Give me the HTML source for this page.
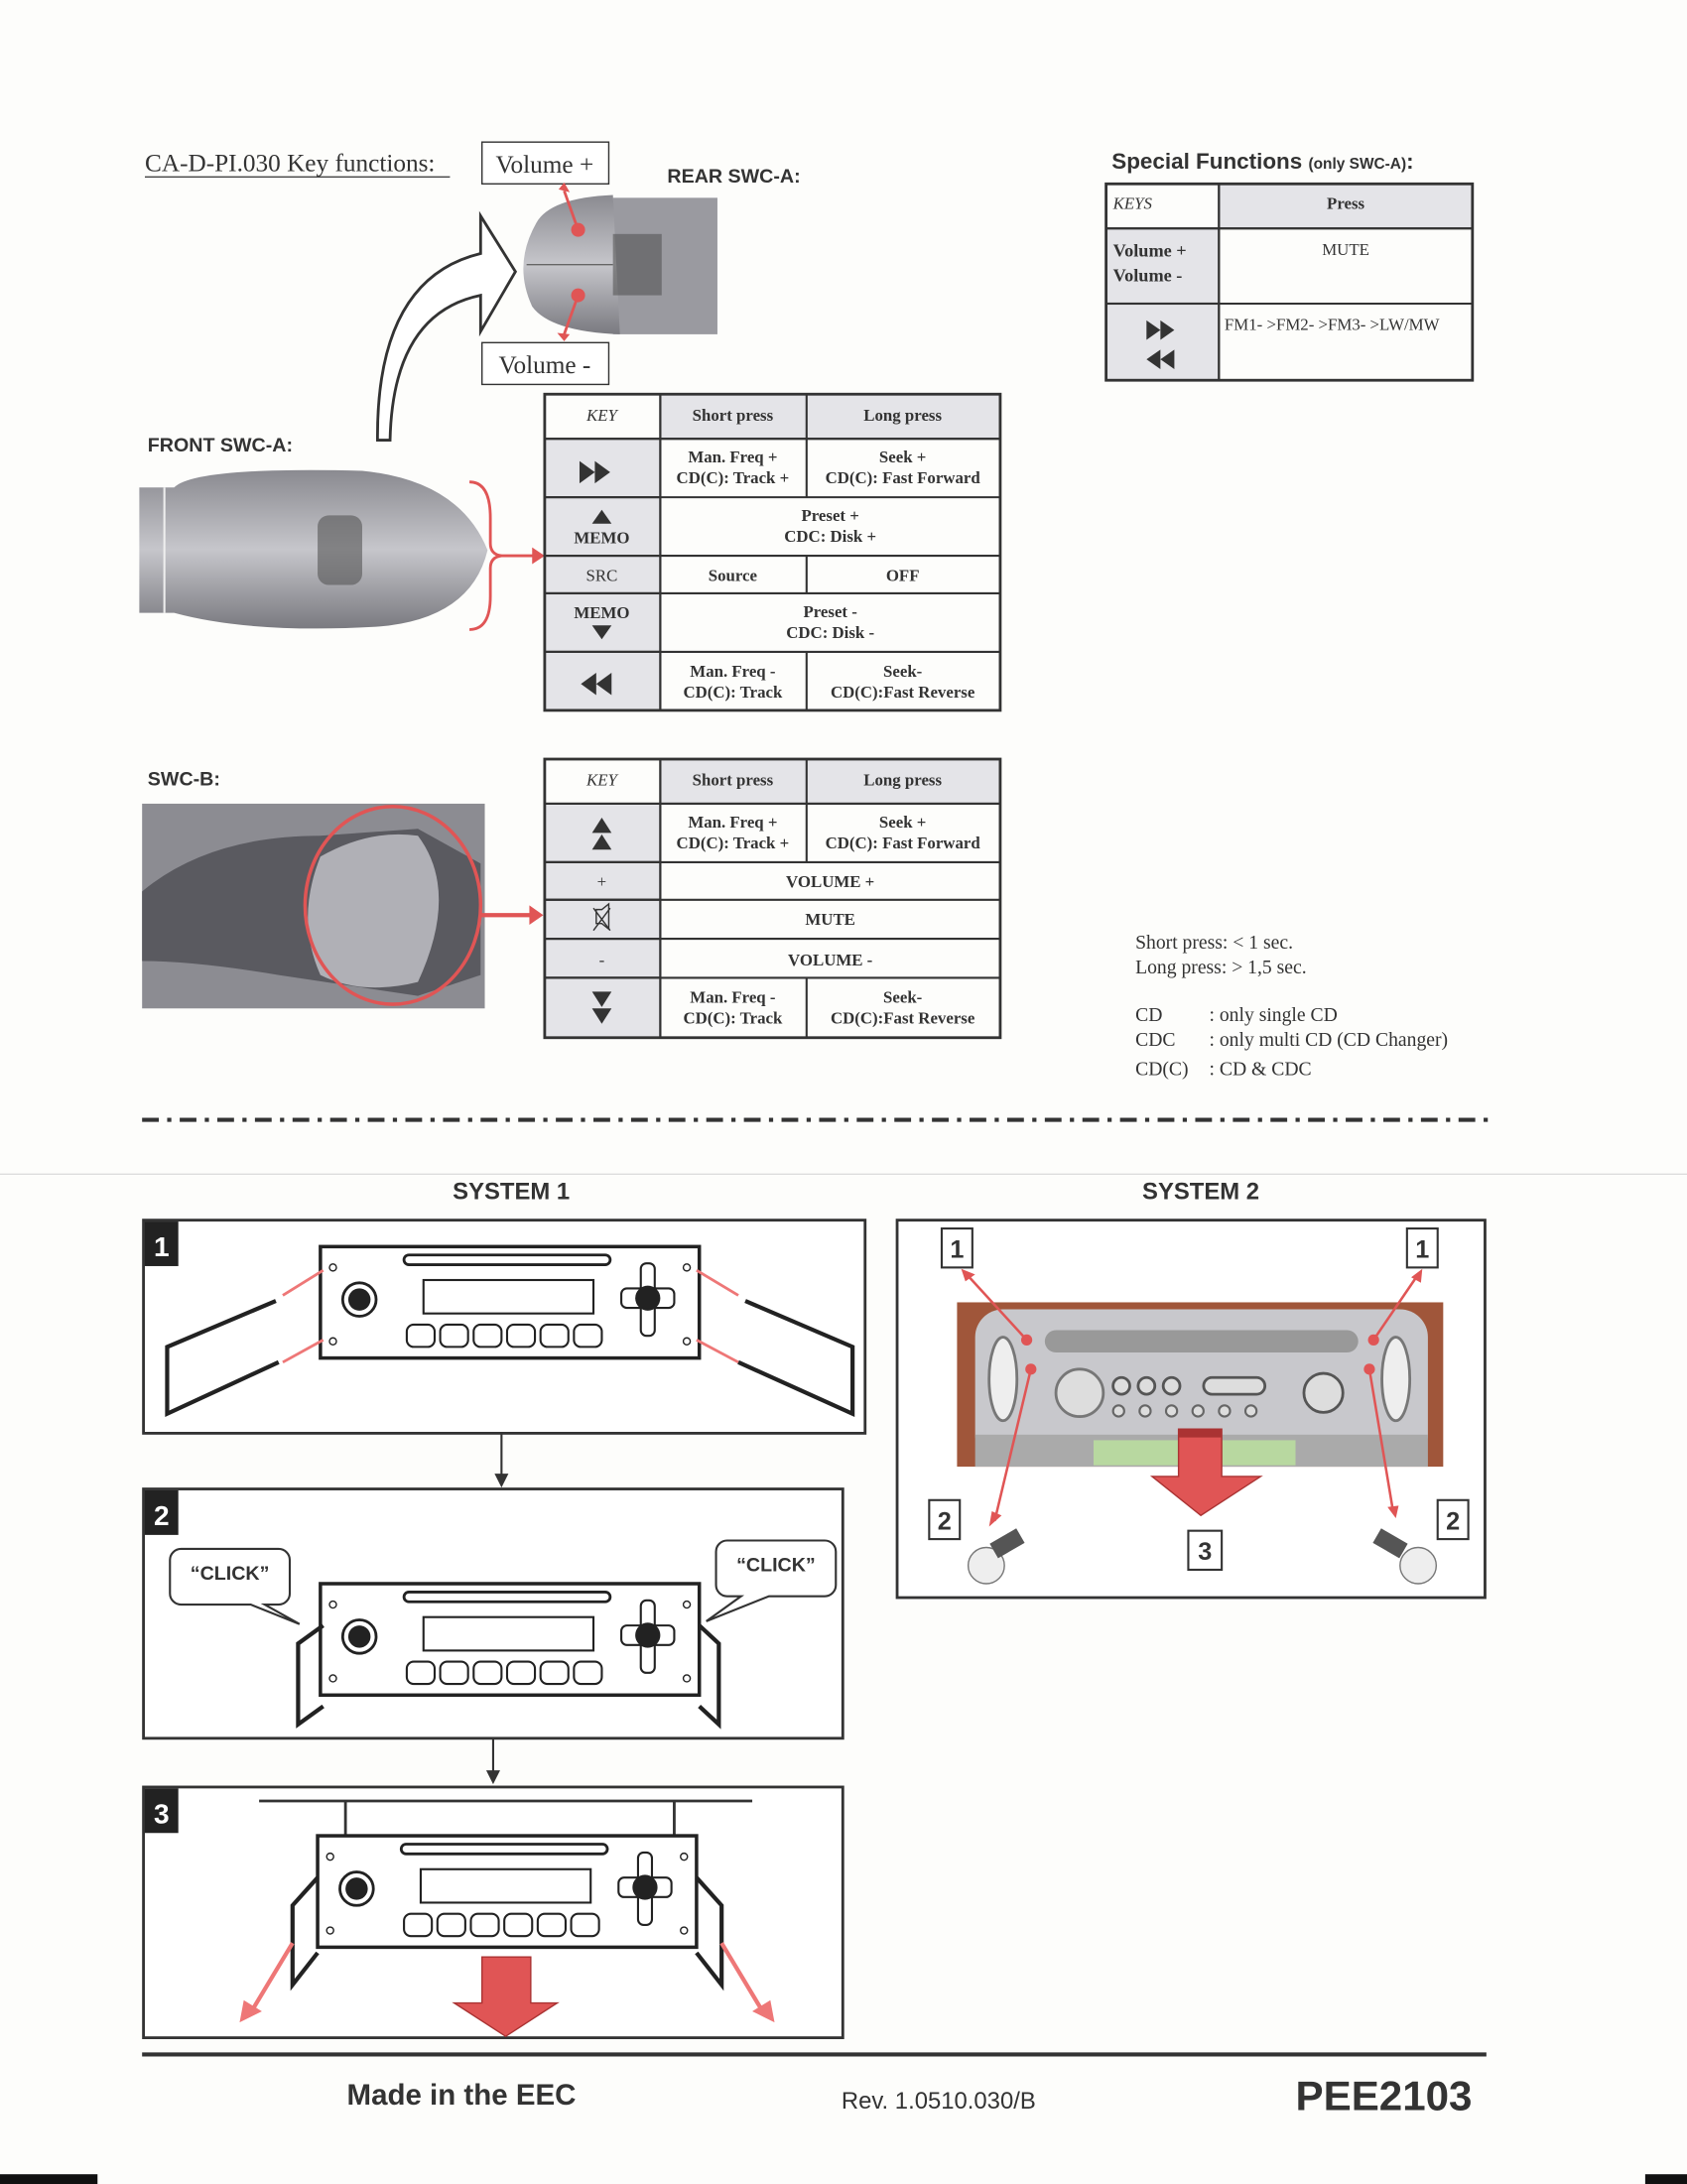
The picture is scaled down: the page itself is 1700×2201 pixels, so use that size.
<!DOCTYPE html>
<html><head><meta charset="utf-8"><style>
html,body{margin:0;padding:0;background:#fdfdfb}
svg{display:block}
.s{font-family:"Liberation Serif",serif;fill:#333}
.a{font-family:"Liberation Sans",sans-serif;fill:#333}
.w{fill:#fff}
</style></head><body>
<svg width="1700" height="2201" viewBox="0 0 1211 1568" preserveAspectRatio="none" xmlns="http://www.w3.org/2000/svg">
<defs>
<g id="radio">
 <rect x="0" y="0" width="272" height="80" fill="#fff" stroke="#222" stroke-width="2.5"/>
 <rect x="60" y="6" width="148" height="7" rx="3.5" fill="#fff" stroke="#222" stroke-width="2"/>
 <circle cx="28" cy="38" r="12" fill="#fff" stroke="#222" stroke-width="2"/>
 <circle cx="28" cy="38" r="8" fill="#222"/>
 <rect x="74" y="24" width="122" height="24" fill="#fff" stroke="#222" stroke-width="1.5"/>
 <g fill="#fff" stroke="#222" stroke-width="1.5">
 <rect x="62" y="56" width="20" height="16" rx="5"/><rect x="86" y="56" width="20" height="16" rx="5"/><rect x="110" y="56" width="20" height="16" rx="5"/><rect x="134" y="56" width="20" height="16" rx="5"/><rect x="158" y="56" width="20" height="16" rx="5"/><rect x="182" y="56" width="20" height="16" rx="5"/>
 <rect x="230" y="12" width="10" height="52" rx="4"/><rect x="216" y="30" width="38" height="14" rx="4"/></g>
 <circle cx="235" cy="37" r="9" fill="#222"/>
 <circle cx="9" cy="15" r="2.5" fill="none" stroke="#222"/><circle cx="9" cy="68" r="2.5" fill="none" stroke="#222"/>
 <circle cx="263" cy="15" r="2.5" fill="none" stroke="#222"/><circle cx="263" cy="68" r="2.5" fill="none" stroke="#222"/>
</g>
<linearGradient id="gr" x1="0" y1="0" x2="0" y2="1"><stop offset="0" stop-color="#8a8a90"/><stop offset=".5" stop-color="#c6c6cb"/><stop offset="1" stop-color="#7a7a80"/></linearGradient>
</defs>

<text x="104" y="123" class="s" font-size="18" fill="#444">CA-D-PI.030 Key functions:</text>
<line x1="104" y1="127" x2="323" y2="127" stroke="#444" stroke-width="1"/>
<rect x="346" y="102" width="91" height="30" fill="#fff" stroke="#333"/>
<text x="391" y="124" class="s" font-size="18" text-anchor="middle">Volume +</text>
<rect x="346" y="246" width="91" height="30" fill="#fff" stroke="#333"/>
<text x="391" y="268" class="s" font-size="18" text-anchor="middle">Volume -</text>
<text x="479" y="131" class="a" font-size="14" font-weight="bold">REAR SWC-A:</text>
<text x="106" y="324" class="a" font-size="14" font-weight="bold">FRONT SWC-A:</text>
<text x="106" y="564" class="a" font-size="14" font-weight="bold">SWC-B:</text>

<rect x="440" y="142" width="75" height="98" fill="#9a9aa0"/>
<path d="M385 160 Q395 142 440 140 L445 240 Q395 238 382 220 Q368 190 385 160Z" fill="url(#gr)"/>
<rect x="440" y="168" width="35" height="44" fill="#555" opacity=".6"/>
<line x1="378" y1="190" x2="440" y2="190" stroke="#666"/>
<circle cx="415" cy="165" r="5" fill="#e05555"/><circle cx="415" cy="212" r="5" fill="#e05555"/>
<line x1="415" y1="165" x2="405" y2="137" stroke="#e05555" stroke-width="2"/><path d="M401 136 L405 131 L409 138Z" fill="#e05555"/>
<line x1="415" y1="212" x2="405" y2="240" stroke="#e05555" stroke-width="2"/><path d="M400 239 L405 245 L409 240Z" fill="#e05555"/>

<path d="M271 316 Q270 200 345 182 L345 155 L370 195 L345 238 L345 212 Q282 225 280 316Z" fill="#fff" stroke="#333" stroke-width="2"/>

<path d="M100 350 L125 350 Q140 335 260 338 Q330 345 350 395 Q338 445 270 450 Q180 455 125 440 L100 440Z" fill="url(#gr)"/>
<rect x="228" y="370" width="32" height="50" rx="8" fill="#555" opacity=".6"/>
<line x1="118" y1="350" x2="118" y2="440" stroke="#eee" stroke-width="1.5"/>
<path d="M337 346 Q352 346 352 372 L352 390 Q352 398 360 399 Q352 400 352 408 L352 428 Q352 452 337 452" fill="none" stroke="#e05555" stroke-width="2"/>
<line x1="360" y1="399" x2="384" y2="399" stroke="#e05555" stroke-width="2"/><path d="M382 393 L391 399 L382 405Z" fill="#e05555"/>

<g stroke="#333" stroke-width="1.5">
<rect x="474" y="283" width="244" height="32" fill="#e4e4e8"/>
<rect x="391" y="315" width="83" height="42" fill="#e4e4e8"/>
<rect x="391" y="357" width="83" height="42" fill="#e4e4e8"/>
<rect x="391" y="399" width="83" height="27" fill="#e4e4e8"/>
<rect x="391" y="426" width="83" height="42" fill="#e4e4e8"/>
<rect x="391" y="468" width="83" height="42" fill="#e4e4e8"/>
<rect x="391" y="283" width="327" height="227" fill="none" stroke-width="2"/>
<line x1="474" y1="283" x2="474" y2="510"/>
<line x1="579" y1="283" x2="579" y2="357"/><line x1="579" y1="399" x2="579" y2="426"/><line x1="579" y1="468" x2="579" y2="510"/>
<line x1="391" y1="315" x2="718" y2="315"/><line x1="391" y1="357" x2="718" y2="357"/><line x1="391" y1="399" x2="718" y2="399"/><line x1="391" y1="426" x2="718" y2="426"/><line x1="391" y1="468" x2="718" y2="468"/>
</g>
<g class="s" font-size="12" text-anchor="middle" font-weight="bold">
<text x="432" y="302" font-style="italic" font-weight="normal">KEY</text>
<text x="526" y="302">Short press</text><text x="648" y="302">Long press</text>
<text x="526" y="332">Man. Freq +</text><text x="526" y="347">CD(C): Track +</text>
<text x="648" y="332">Seek +</text><text x="648" y="347">CD(C): Fast Forward</text>
<text x="432" y="390">MEMO</text>
<text x="596" y="374">Preset +</text><text x="596" y="389">CDC: Disk +</text>
<text x="432" y="417" font-weight="normal">SRC</text>
<text x="526" y="417">Source</text><text x="648" y="417">OFF</text>
<text x="432" y="444">MEMO</text>
<text x="596" y="443">Preset -</text><text x="596" y="458">CDC: Disk -</text>
<text x="526" y="486">Man. Freq -</text><text x="526" y="501">CD(C): Track</text>
<text x="648" y="486">Seek-</text><text x="648" y="501">CD(C):Fast Reverse</text>
</g>
<g fill="#333">
<path d="M416 331 L427 339 L416 347Z M427 331 L438 339 L427 347Z"/>
<path d="M425 376 L432 366 L439 376Z"/>
<path d="M425 449 L432 459 L439 449Z"/>
<path d="M428 483 L417 491 L428 499Z M439 483 L428 491 L439 499Z"/>
</g>

<text x="798" y="121" class="a" font-size="16" font-weight="bold">Special Functions <tspan font-size="11">(only SWC-A)</tspan>:</text>
<g stroke="#333" stroke-width="1.5">
<rect x="875" y="132" width="182" height="32" fill="#e4e4e8"/>
<rect x="794" y="164" width="81" height="54" fill="#e4e4e8"/>
<rect x="794" y="218" width="81" height="55" fill="#e4e4e8"/>
<rect x="794" y="132" width="263" height="141" fill="none" stroke-width="2"/>
<line x1="875" y1="132" x2="875" y2="273"/><line x1="794" y1="164" x2="1057" y2="164"/><line x1="794" y1="218" x2="1057" y2="218"/>
</g>
<g class="s" font-size="12">
<text x="799" y="150" font-style="italic">KEYS</text>
<text x="966" y="150" text-anchor="middle" font-weight="bold">Press</text>
<text x="799" y="184" font-weight="bold" font-size="13">Volume +</text><text x="799" y="202" font-weight="bold" font-size="13">Volume -</text>
<text x="966" y="183" text-anchor="middle">MUTE</text>
<text x="879" y="237">FM1- &gt;FM2- &gt;FM3- &gt;LW/MW</text>
</g>
<g fill="#333"><path d="M823 230 L833 237 L823 244Z M833 230 L843 237 L833 244Z"/><path d="M833 251 L823 258 L833 265Z M843 251 L833 258 L843 265Z"/></g>

<rect x="102" y="577" width="246" height="147" fill="#8c8c92"/>
<path d="M102 640 Q150 600 230 600 L300 595 L345 620 L345 700 L300 715 L200 700 Q140 690 102 690Z" fill="#5a5a60"/>
<path d="M230 615 Q265 595 300 600 Q330 640 300 705 Q260 715 230 700 Q212 660 230 615Z" fill="#b0b0b6"/>
<ellipse cx="282" cy="650" rx="63" ry="71" fill="none" stroke="#e05555" stroke-width="2.5"/>
<line x1="345" y1="657" x2="382" y2="657" stroke="#e05555" stroke-width="3"/><path d="M380 650 L390 657 L380 664Z" fill="#e05555"/>

<g stroke="#333" stroke-width="1.5">
<rect x="474" y="545" width="244" height="32" fill="#e4e4e8"/>
<rect x="391" y="577" width="83" height="42" fill="#e4e4e8"/>
<rect x="391" y="619" width="83" height="27" fill="#e4e4e8"/>
<rect x="391" y="646" width="83" height="28" fill="#e4e4e8"/>
<rect x="391" y="674" width="83" height="28" fill="#e4e4e8"/>
<rect x="391" y="702" width="83" height="43" fill="#e4e4e8"/>
<rect x="391" y="545" width="327" height="200" fill="none" stroke-width="2"/>
<line x1="474" y1="545" x2="474" y2="745"/>
<line x1="579" y1="545" x2="579" y2="619"/><line x1="579" y1="702" x2="579" y2="745"/>
<line x1="391" y1="577" x2="718" y2="577"/><line x1="391" y1="619" x2="718" y2="619"/><line x1="391" y1="646" x2="718" y2="646"/><line x1="391" y1="674" x2="718" y2="674"/><line x1="391" y1="702" x2="718" y2="702"/>
</g>
<g class="s" font-size="12" text-anchor="middle" font-weight="bold">
<text x="432" y="564" font-style="italic" font-weight="normal">KEY</text>
<text x="526" y="564">Short press</text><text x="648" y="564">Long press</text>
<text x="526" y="594">Man. Freq +</text><text x="526" y="609">CD(C): Track +</text>
<text x="648" y="594">Seek +</text><text x="648" y="609">CD(C): Fast Forward</text>
<text x="432" y="637" font-weight="normal">+</text><text x="596" y="637">VOLUME +</text>
<text x="596" y="664">MUTE</text>
<text x="432" y="693" font-weight="normal">-</text><text x="596" y="693">VOLUME -</text>
<text x="526" y="720">Man. Freq -</text><text x="526" y="735">CD(C): Track</text>
<text x="648" y="720">Seek-</text><text x="648" y="735">CD(C):Fast Reverse</text>
</g>
<g fill="#333">
<path d="M425 598 L432 587 L439 598Z M425 610 L432 599 L439 610Z"/>
<path d="M425 712 L432 723 L439 712Z M425 724 L432 735 L439 724Z"/>
<path d="M428 653 h4 l5 -4 v18 l-5 -4 h-4Z" fill="none" stroke="#333"/><path d="M426 652 L438 668 M438 652 L426 668" stroke="#333"/>
</g>

<g class="s" font-size="14">
<text x="815" y="681">Short press: &lt; 1 sec.</text>
<text x="815" y="699">Long press: &gt; 1,5 sec.</text>
<text x="815" y="733">CD</text><text x="868" y="733">: only single CD</text>
<text x="815" y="751">CDC</text><text x="868" y="751">: only multi CD (CD Changer)</text>
<text x="815" y="772">CD(C)</text><text x="868" y="772">: CD &amp; CDC</text>
</g>

<line x1="102" y1="804" x2="1068" y2="804" stroke="#333" stroke-width="3" stroke-dasharray="12 6 3 6"/>
<line x1="0" y1="843" x2="1211" y2="843" stroke="#ddd" stroke-width="1"/>

<text x="367" y="861" class="a" font-size="17" font-weight="bold" text-anchor="middle">SYSTEM 1</text>
<text x="862" y="861" class="a" font-size="17" font-weight="bold" text-anchor="middle">SYSTEM 2</text>

<rect x="103" y="876" width="518" height="153" fill="#fff" stroke="#333" stroke-width="2"/>
<rect x="104" y="877" width="24" height="32" fill="#222"/><text x="116" y="902" class="a w" font-size="20" font-weight="bold" text-anchor="middle">1</text>
<use href="#radio" x="230" y="895"/>
<g fill="none" stroke="#222" stroke-width="3">
<path d="M198 934 L120 967 L120 1015 L200 978"/>
<path d="M535 934 L612 967 L612 1015 L530 978"/>
</g>
<g stroke="#e77" stroke-width="2"><line x1="203" y1="930" x2="232" y2="912"/><line x1="203" y1="978" x2="232" y2="962"/><line x1="530" y1="930" x2="500" y2="912"/><line x1="530" y1="978" x2="500" y2="962"/></g>
<line x1="360" y1="1029" x2="360" y2="1062" stroke="#333" stroke-width="1.5"/><path d="M355 1058 L360 1068 L365 1058Z" fill="#333"/>

<rect x="103" y="1069" width="502" height="179" fill="#fff" stroke="#333" stroke-width="2"/>
<rect x="104" y="1070" width="24" height="32" fill="#222"/><text x="116" y="1095" class="a w" font-size="20" font-weight="bold" text-anchor="middle">2</text>
<use href="#radio" x="230" y="1137"/>
<path d="M232 1167 L214 1180 L214 1238 L232 1225" fill="none" stroke="#222" stroke-width="3"/>
<path d="M502 1167 L516 1180 L516 1238 L502 1225" fill="none" stroke="#222" stroke-width="3"/>
<path d="M130 1112 h70 a8 8 0 0 1 8 8 v24 a8 8 0 0 1 -8 8 h-10 l25 14 l-35 -14 h-50 a8 8 0 0 1 -8 -8 v-24 a8 8 0 0 1 8 -8Z" fill="#fff" stroke="#333" stroke-width="1.5"/>
<text x="165" y="1134" class="a" font-size="14" font-weight="bold" text-anchor="middle">“CLICK”</text>
<path d="M522 1106 h70 a8 8 0 0 1 8 8 v24 a8 8 0 0 1 -8 8 h-40 l-45 18 l25 -18 h-10 a8 8 0 0 1 -8 -8 v-24 a8 8 0 0 1 8 -8Z" fill="#fff" stroke="#333" stroke-width="1.5"/>
<text x="557" y="1128" class="a" font-size="14" font-weight="bold" text-anchor="middle">“CLICK”</text>
<line x1="354" y1="1248" x2="354" y2="1275" stroke="#333" stroke-width="1.5"/><path d="M349 1271 L354 1281 L359 1271Z" fill="#333"/>

<rect x="103" y="1283" width="502" height="180" fill="#fff" stroke="#333" stroke-width="2"/>
<rect x="104" y="1284" width="24" height="32" fill="#222"/><text x="116" y="1309" class="a w" font-size="20" font-weight="bold" text-anchor="middle">3</text>
<line x1="186" y1="1293" x2="540" y2="1293" stroke="#333" stroke-width="2"/>
<path d="M248 1293 L248 1318 M484 1293 L484 1318" stroke="#333" stroke-width="2"/>
<use href="#radio" x="228" y="1318"/>
<path d="M228 1348 L210 1368 L210 1425 L228 1402" fill="none" stroke="#222" stroke-width="3"/>
<path d="M500 1348 L518 1368 L518 1425 L500 1402" fill="none" stroke="#222" stroke-width="3"/>
<g stroke="#e77" stroke-width="3"><line x1="210" y1="1395" x2="180" y2="1445"/><line x1="518" y1="1395" x2="548" y2="1445"/></g>
<path d="M172 1452 L175 1436 L188 1444Z M556 1452 L553 1436 L540 1444Z" fill="#e77"/>
<path d="M346 1405 L381 1405 L381 1438 L400 1438 L363 1462 L326 1438 L346 1438Z" fill="#e05555" stroke="#a33"/>

<rect x="644" y="876" width="422" height="271" fill="#fff" stroke="#333" stroke-width="2"/>
<rect x="687" y="935" width="349" height="118" fill="#a0563a"/>
<rect x="700" y="940" width="325" height="110" rx="20" fill="#c8c8cc"/>
<rect x="750" y="955" width="225" height="16" rx="8" fill="#999"/>
<circle cx="775" cy="1000" r="17" fill="#ddd" stroke="#777" stroke-width="2"/>
<g fill="#ddd" stroke="#555" stroke-width="2"><circle cx="805" cy="995" r="6"/><circle cx="823" cy="995" r="6"/><circle cx="841" cy="995" r="6"/><rect x="864" y="989" width="44" height="12" rx="6"/><circle cx="950" cy="1000" r="14"/></g>
<g fill="#ddd" stroke="#666" stroke-width="1.5"><circle cx="803" cy="1013" r="4"/><circle cx="822" cy="1013" r="4"/><circle cx="841" cy="1013" r="4"/><circle cx="860" cy="1013" r="4"/><circle cx="879" cy="1013" r="4"/><circle cx="898" cy="1013" r="4"/></g>
<ellipse cx="720" cy="990" rx="10" ry="30" fill="#eee" stroke="#777" stroke-width="2"/><ellipse cx="1002" cy="990" rx="10" ry="30" fill="#eee" stroke="#777" stroke-width="2"/>
<rect x="700" y="1030" width="325" height="23" fill="#aaa"/><rect x="785" y="1034" width="145" height="18" fill="#b8d8a0"/>
<g fill="#e05555"><circle cx="737" cy="962" r="4"/><circle cx="740" cy="983" r="4"/><circle cx="986" cy="962" r="4"/><circle cx="983" cy="983" r="4"/></g>
<g stroke="#e05555" stroke-width="1.8"><line x1="737" y1="962" x2="694" y2="915"/><line x1="740" y1="983" x2="714" y2="1092"/><line x1="986" y1="962" x2="1018" y2="915"/><line x1="983" y1="983" x2="1000" y2="1085"/></g>
<g fill="#e05555"><path d="M690 911 L700 915 L693 920Z"/><path d="M710 1096 L712 1085 L719 1088Z"/><path d="M1021 911 L1020 921 L1013 917Z"/><path d="M1002 1090 L996 1082 L1004 1081Z"/></g>
<path d="M846 1026 L877 1026 L877 1060 L905 1060 L862 1088 L827 1060 L846 1060Z" fill="#e05555" stroke="#a33"/>
<rect x="846" y="1026" width="31" height="6" fill="#a33"/>
<g fill="#fff" stroke="#333" stroke-width="1.5">
<rect x="676" y="882" width="22" height="28"/><rect x="1010" y="882" width="22" height="28"/>
<rect x="667" y="1077" width="22" height="28"/><rect x="1032" y="1077" width="22" height="28"/>
<rect x="853" y="1099" width="24" height="28"/></g>
<g class="a" font-size="18" font-weight="bold" text-anchor="middle">
<text x="687" y="903">1</text><text x="1021" y="903">1</text><text x="678" y="1098">2</text><text x="1043" y="1098">2</text><text x="865" y="1120">3</text></g>
<g fill="#eee" stroke="#777"><circle cx="708" cy="1124" r="13"/><circle cx="1018" cy="1124" r="13"/></g>
<g fill="#555"><rect x="712" y="1102" width="22" height="12" transform="rotate(-30 723 1108)"/><rect x="987" y="1102" width="22" height="12" transform="rotate(30 998 1108)"/></g>

<line x1="102" y1="1475" x2="1067" y2="1475" stroke="#333" stroke-width="3"/>
<text x="249" y="1511" class="a" font-size="21" font-weight="bold">Made in the EEC</text>
<text x="604" y="1514" class="a" font-size="17">Rev. 1.0510.030/B</text>
<text x="930" y="1515" class="a" font-size="30" font-weight="bold">PEE2103</text>
<rect x="0" y="1561" width="70" height="7" fill="#111"/><rect x="1181" y="1561" width="30" height="7" fill="#111"/>
</svg>
</body></html>
